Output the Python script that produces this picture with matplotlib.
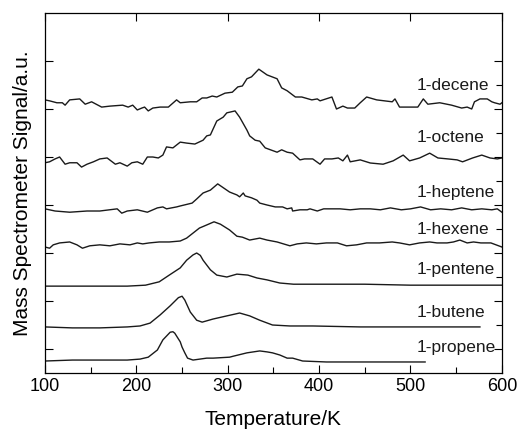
import numpy as np
import matplotlib
matplotlib.use('Agg')
from matplotlib import pyplot as plt

plt.rcParams['font.family'] = ['Liberation Sans', 'DejaVu Sans']

# temperature (K) / signal (a.u., curves already offset)
T_propene = [100, 130, 160, 190, 204, 213, 223, 229, 237, 240, 242, 248, 250, 253, 256, 259, 262,
             277, 284, 302, 306, 321, 335, 343, 349, 357, 365, 371, 382, 408, 445, 481, 496, 516]
S_propene = [0.25, 0.27, 0.27, 0.27, 0.29, 0.33, 0.48, 0.69, 0.85, 0.86, 0.83, 0.65, 0.54, 0.42, 0.31, 0.29, 0.27,
             0.31, 0.31, 0.33, 0.35, 0.42, 0.46, 0.44, 0.42, 0.375, 0.31, 0.31, 0.25, 0.23, 0.23, 0.23, 0.23, 0.23]

T_butene = [100, 130, 160, 190, 204, 215, 226, 237, 246, 250, 253, 259, 266, 272, 284, 299, 313, 324, 335,
            349, 368, 393, 445, 500, 540, 576]
S_butene = [0.96, 0.94, 0.94, 0.96, 0.98, 1.04, 1.21, 1.40, 1.57, 1.60, 1.52, 1.27, 1.10, 1.06, 1.125, 1.19, 1.25, 1.19, 1.10,
            1.00, 0.98, 0.98, 0.96, 0.96, 0.96, 0.96]

T_pentene = [100, 130, 160, 190, 210, 225, 236, 248, 255, 262, 266, 270, 273, 281, 288, 299, 310, 322, 332,
             343, 357, 372, 400, 450, 500, 550, 600]
S_pentene = [1.81, 1.81, 1.81, 1.81, 1.83, 1.90, 2.04, 2.19, 2.35, 2.46, 2.50, 2.45, 2.35, 2.15, 2.04, 2.00, 2.06, 2.04, 1.98,
             1.94, 1.875, 1.85, 1.85, 1.85, 1.83, 1.83, 1.83]

T_hexene = [100, 105, 109, 116, 127, 135, 141, 149, 160, 171, 182, 193, 201, 207, 214, 225, 236, 248, 255,
            261, 269, 274, 285, 292, 302, 310, 316, 324, 335, 343, 354, 368, 376, 386, 397, 408, 420, 430,
            441, 452, 466, 480, 488, 499, 510, 521, 529, 540, 547, 554, 562, 569, 577, 588, 600]
S_hexene = [2.625, 2.60, 2.67, 2.71, 2.73, 2.67, 2.60, 2.65, 2.67, 2.65, 2.69, 2.67, 2.71, 2.69, 2.71, 2.73, 2.73, 2.75, 2.81,
            2.90, 3.02, 3.06, 3.15, 3.10, 2.98, 2.85, 2.83, 2.77, 2.81, 2.77, 2.73, 2.65, 2.69, 2.71, 2.69, 2.71, 2.71, 2.65,
            2.67, 2.71, 2.71, 2.73, 2.71, 2.67, 2.71, 2.73, 2.71, 2.71, 2.73, 2.77, 2.71, 2.73, 2.71, 2.71, 2.625]

T_heptene = [100, 111, 127, 146, 160, 179, 184, 190, 201, 212, 223, 229, 233, 244, 248, 261, 266, 273, 281,
             289, 302, 310, 313, 317, 319, 326, 332, 335, 343, 352, 360, 365, 370, 371, 379, 387, 390, 398,
             405, 409, 423, 434, 445, 456, 467, 478, 490, 500, 511, 522, 533, 545, 556, 567, 578, 589, 595, 600]
S_heptene = [3.42, 3.375, 3.35, 3.375, 3.375, 3.42, 3.33, 3.375, 3.40, 3.35, 3.44, 3.46, 3.42, 3.46, 3.48, 3.54, 3.625, 3.75, 3.81,
             3.94, 3.77, 3.71, 3.67, 3.75, 3.69, 3.65, 3.60, 3.54, 3.50, 3.46, 3.46, 3.42, 3.44, 3.375, 3.40, 3.40, 3.42, 3.375,
             3.42, 3.42, 3.42, 3.40, 3.42, 3.42, 3.40, 3.44, 3.40, 3.42, 3.46, 3.40, 3.42, 3.40, 3.44, 3.40, 3.42, 3.40, 3.42, 3.35]

T_octene = [100, 105, 111, 116, 122, 127, 135, 140, 146, 153, 160, 168, 177, 182, 190, 195, 201, 207, 212,
            218, 224, 229, 233, 240, 248, 255, 264, 273, 277, 281, 288, 295, 299, 308, 313, 321, 324, 330,
            335, 341, 354, 359, 365, 371, 379, 384, 393, 401, 406, 414, 421, 426, 431, 434, 445, 456, 470,
            481, 492, 499, 510, 521, 530, 541, 551, 557, 568, 578, 587, 595, 600]
S_octene = [4.38, 4.40, 4.46, 4.50, 4.35, 4.38, 4.38, 4.29, 4.35, 4.40, 4.46, 4.48, 4.35, 4.38, 4.31, 4.38, 4.40, 4.35, 4.50,
            4.50, 4.48, 4.54, 4.71, 4.69, 4.81, 4.79, 4.77, 4.85, 4.94, 4.96, 5.25, 5.33, 5.42, 5.46, 5.33, 5.06, 4.94, 4.85,
            4.83, 4.69, 4.60, 4.65, 4.60, 4.58, 4.44, 4.46, 4.46, 4.35, 4.46, 4.46, 4.48, 4.42, 4.54, 4.40, 4.44, 4.375, 4.35,
            4.42, 4.54, 4.42, 4.48, 4.58, 4.48, 4.46, 4.44, 4.40, 4.48, 4.54, 4.48, 4.46, 4.48]

T_decene = [100, 105, 113, 119, 122, 127, 138, 144, 151, 162, 171, 185, 191, 196, 201, 206, 209, 213, 218,
            226, 235, 244, 248, 259, 266, 272, 277, 283, 288, 297, 305, 311, 316, 321, 326, 334, 343, 354,
            359, 365, 374, 381, 392, 398, 401, 414, 419, 426, 431, 439, 445, 452, 463, 480, 483, 488, 497,
            508, 514, 519, 532, 545, 556, 562, 567, 570, 576, 584, 589, 592, 598, 600]
S_decene = [5.69, 5.67, 5.63, 5.63, 5.58, 5.69, 5.71, 5.60, 5.65, 5.54, 5.56, 5.58, 5.54, 5.58, 5.48, 5.52, 5.54, 5.46, 5.52,
            5.54, 5.54, 5.69, 5.63, 5.65, 5.65, 5.73, 5.73, 5.77, 5.75, 5.83, 5.85, 5.96, 5.98, 6.13, 6.17, 6.33, 6.21, 6.13,
            5.94, 5.88, 5.75, 5.75, 5.69, 5.71, 5.67, 5.75, 5.50, 5.56, 5.52, 5.52, 5.63, 5.75, 5.69, 5.65, 5.71, 5.54, 5.54,
            5.54, 5.71, 5.60, 5.63, 5.58, 5.52, 5.54, 5.50, 5.65, 5.71, 5.71, 5.65, 5.63, 5.60, 5.63]

names = ['1-propene', '1-butene', '1-pentene', '1-hexene', '1-heptene', '1-octene', '1-decene']
curves = [(T_propene, S_propene), (T_butene, S_butene), (T_pentene, S_pentene), (T_hexene, S_hexene),
          (T_heptene, S_heptene), (T_octene, S_octene), (T_decene, S_decene)]
label_y = [0.54, 1.27, 2.15, 2.98, 3.77, 4.90, 6.0]

fig = plt.figure(figsize=(5.19, 4.29), dpi=100)
ax = fig.add_axes([0.0867, 0.1305, 0.8803, 0.8392])

for (t, s), name, ly in zip(curves, names, label_y):
    ax.plot(t, s, color='#1a1a1a', lw=1.0)
    ax.text(507, ly, name, fontsize=12.5, ha='left', va='center', color='#1a1a1a')

ax.set_xlim(100, 600)
ax.set_ylim(0, 7.5)
ax.set_xticks([100, 200, 300, 400, 500, 600])
ax.set_xticks(np.arange(150, 600, 100), minor=True)
ax.set_yticks(np.arange(0.5, 7.0, 1.0))
ax.set_yticks(np.arange(1.0, 7.0, 1.0), minor=True)
ax.set_yticklabels([])
ax.tick_params(which='major', direction='in', length=6, width=0.8, top=True, right=True, labelsize=13)
ax.tick_params(which='minor', direction='in', length=4, width=0.8, top=False, left=False, right=True)
ax.set_xlabel('Temperature/K', fontsize=15, labelpad=11)
ax.set_ylabel('Mass Spectrometer Signal/a.u.', fontsize=15, labelpad=6)
for sp in ax.spines.values():
    sp.set_linewidth(0.9)

plt.savefig('out.png', dpi=100)
